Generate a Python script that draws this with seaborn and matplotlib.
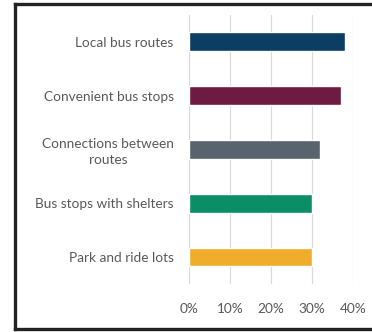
import matplotlib
matplotlib.use("Agg")
import matplotlib.pyplot as plt
import pandas as pd
import seaborn as sns
from matplotlib.lines import Line2D

categories = ["Local bus routes", "Convenient bus stops", "Connections between\nroutes",
              "Bus stops with shelters", "Park and ride lots"]
values = [38, 37, 32, 30, 30]
colors = ["#0c3d63", "#6d1b40", "#58636e", "#0b8e66", "#f0ad2c"]
ticks = [0, 10, 20, 30, 40]

df = pd.DataFrame({"category": categories, "value": values})

sns.set_style("white")
plt.rcParams["font.family"] = ["Lato", "DejaVu Sans"]

fig = plt.figure(figsize=(3.72, 3.32), dpi=100)
ax = fig.add_axes([0.508, 0.145, 0.441, 0.81])

sns.barplot(data=df, x="value", y="category", hue="category", palette=colors,
            width=0.35, legend=False, ax=ax, saturation=1)

ax.set_xlim(0, 40)
ax.set_ylim(4.5, -0.5)
ax.set_xticks(ticks)
ax.set_xticklabels([f"{t}%" for t in ticks])
ax.grid(axis="x", color="#d9d9d9", linewidth=0.8)
ax.set_axisbelow(True)
sns.despine(ax=ax, left=True, bottom=True)
ax.set_xlabel("")
ax.set_ylabel("")
ax.tick_params(axis="both", length=0, labelsize=9.8, labelcolor="#595959")
ax.tick_params(axis="y", pad=11)
ax.tick_params(axis="x", pad=14)
for lbl in ax.get_yticklabels():
    lbl.set_horizontalalignment("right")
    lbl.set_multialignment("center")
    lbl.set_linespacing(1.35)

# open frame: top, left and bottom only (runs off the right edge)
x0, x1, y0, y1 = 15 / 372, 1.02, 3 / 332, 328 / 332
for xs, ys in [([x0, x1], [y1, y1]), ([x0, x0], [y0, y1]), ([x0, x1], [y0, y0])]:
    fig.add_artist(Line2D(xs, ys, transform=fig.transFigure, color="#222222",
                          linewidth=2.4, solid_capstyle="projecting", clip_on=False))

fig.savefig("out.png", dpi=100, facecolor="white", edgecolor="none")
